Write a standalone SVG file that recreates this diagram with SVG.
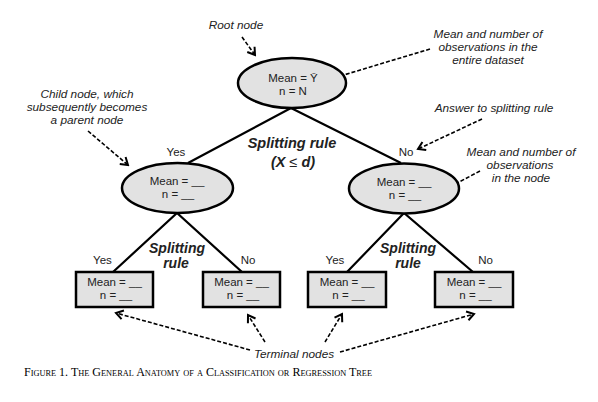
<svg xmlns="http://www.w3.org/2000/svg" width="598" height="402" viewBox="0 0 598 402">
<style>
.node{fill:#e2e2e2;stroke:#000;stroke-width:2.5}
.t{font-family:"Liberation Sans",Arial,sans-serif;font-size:11.5px;fill:#222;text-anchor:middle}
.a{font-family:"Liberation Sans",Arial,sans-serif;font-size:11.8px;font-style:italic;fill:#222;text-anchor:middle}
.s{font-family:"Liberation Sans",Arial,sans-serif;font-size:14.5px;font-style:italic;font-weight:bold;fill:#222;text-anchor:middle}
.s2{font-family:"Liberation Sans",Arial,sans-serif;font-size:14px;font-style:italic;font-weight:bold;fill:#222;text-anchor:middle}
.edge{stroke:#000;stroke-width:2.2;fill:none}
.dash{stroke:#000;stroke-width:1.6;fill:none;stroke-dasharray:4 2;marker-end:url(#arr)}
.cap{font-family:"Liberation Serif","Times New Roman",serif;font-size:11.6px;font-variant:small-caps;fill:#000}
</style>
<defs>
<marker id="arr" viewBox="-10 -6 12 12" refX="0" refY="0" markerWidth="12" markerHeight="12" markerUnits="userSpaceOnUse" orient="auto">
<path d="M-7,-4.5 L0,0 L-7,4.5" fill="none" stroke="#000" stroke-width="2" stroke-dasharray="none"/>
</marker>
</defs>
<rect width="598" height="402" fill="#fff"/>
<g id="connectors">
<path class="edge" d="M188,163 L291,108 L401,163"/>
<path class="edge" d="M113,272 L177,213 L242,272"/>
<path class="edge" d="M347,272 L404,213 L473,272"/>
<path class="dash" d="M242,37 L255,55"/>
<path class="dash" d="M430,49 L327,80"/>
<path class="dash" d="M88,131 L128,165"/>
<path class="dash" d="M482,119 L418,149"/>
<path class="dash" d="M480,171 L442,191"/>
<path class="dash" d="M250,350 L116,313"/>
<path class="dash" d="M265,342 L248,315"/>
<path class="dash" d="M325,342 L342,314"/>
<path class="dash" d="M340,352 L474,314"/>
</g>
<g id="root">
<ellipse class="node" cx="292" cy="83" rx="54" ry="25"/>
<text class="t" x="293" y="82">Mean = Ȳ</text>
<text class="t" x="293" y="95">n = N</text>
</g>
<g id="child-left">
<ellipse class="node" cx="177.5" cy="188" rx="55.5" ry="25"/>
<text class="t" x="177" y="185">Mean = __</text>
<text class="t" x="178" y="198">n = __</text>
</g>
<g id="child-right">
<ellipse class="node" cx="404" cy="188.5" rx="55" ry="25"/>
<text class="t" x="404" y="186">Mean = __</text>
<text class="t" x="405" y="199">n = __</text>
</g>
<g id="leaf1">
<rect class="node" x="76" y="272" width="77" height="35"/>
<text class="t" x="114.5" y="286">Mean = __</text>
<text class="t" x="116" y="299">n = __</text>
</g>
<g id="leaf2">
<rect class="node" x="203" y="272" width="77" height="35"/>
<text class="t" x="241.5" y="286">Mean = __</text>
<text class="t" x="243" y="299">n = __</text>
</g>
<g id="leaf3">
<rect class="node" x="308" y="272" width="78" height="35"/>
<text class="t" x="347" y="286">Mean = __</text>
<text class="t" x="348.5" y="299">n = __</text>
</g>
<g id="leaf4">
<rect class="node" x="435" y="272" width="78" height="35"/>
<text class="t" x="474" y="286">Mean = __</text>
<text class="t" x="475.5" y="299">n = __</text>
</g>
<g id="labels">
<text class="t" x="176" y="156">Yes</text>
<text class="t" x="406" y="156">No</text>
<text class="t" x="102.5" y="264">Yes</text>
<text class="t" x="248" y="264">No</text>
<text class="t" x="335" y="264">Yes</text>
<text class="t" x="485.5" y="264">No</text>
<text class="s" x="292" y="148">Splitting rule</text>
<text class="s" x="293" y="167">(X <tspan font-weight="normal" font-style="normal">≤</tspan> d)</text>
<text class="s2" x="177" y="252.5">Splitting</text>
<text class="s2" x="176" y="267.5">rule</text>
<text class="s2" x="408" y="252.5">Splitting</text>
<text class="s2" x="408" y="267.5">rule</text>
</g>
<g id="annotations">
<text class="a" x="236" y="29">Root node</text>
<text class="a" x="488" y="38">Mean and number of</text>
<text class="a" x="488" y="51">observations in the</text>
<text class="a" x="488" y="64">entire dataset</text>
<text class="a" x="494" y="112">Answer to splitting rule</text>
<text class="a" x="521" y="156">Mean and number of</text>
<text class="a" x="520" y="169">observations</text>
<text class="a" x="521" y="182">in the node</text>
<text class="a" x="87" y="98">Child node, which</text>
<text class="a" x="87" y="111">subsequently becomes</text>
<text class="a" x="87" y="124">a parent node</text>
<text class="a" x="294" y="358">Terminal nodes</text>
</g>
<text class="cap" x="24" y="376" textLength="348" lengthAdjust="spacingAndGlyphs">Figure 1.  The General Anatomy of a Classification or Regression Tree</text>
</svg>
